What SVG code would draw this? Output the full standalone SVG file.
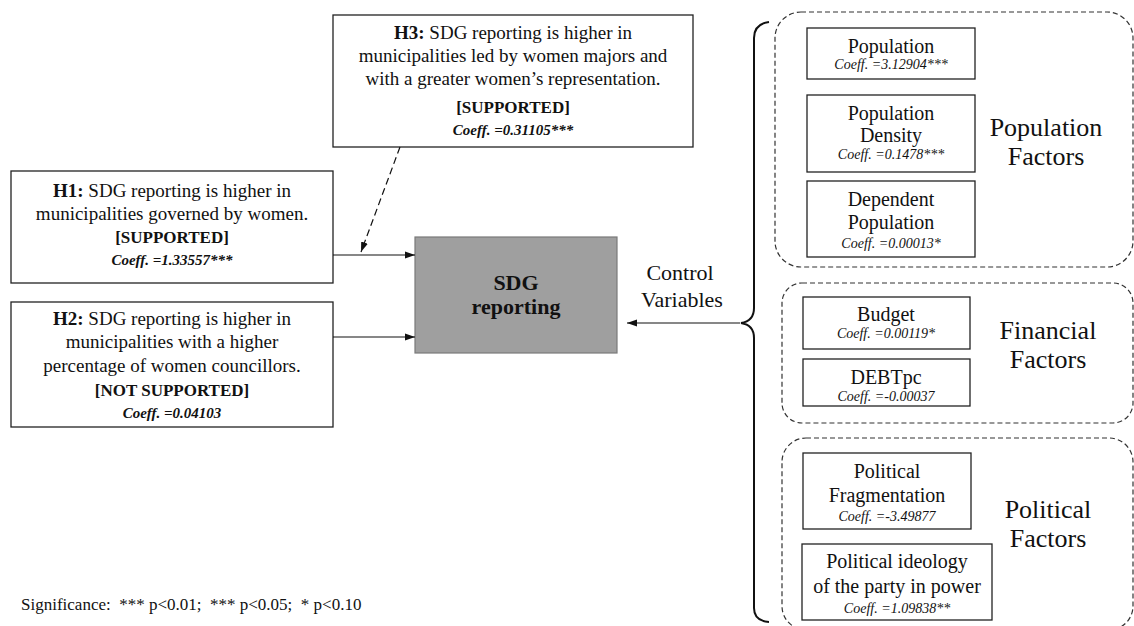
<svg xmlns="http://www.w3.org/2000/svg" width="1134" height="626" viewBox="0 0 1134 626">
<style>
text{font-family:"Liberation Serif","Times New Roman",serif;fill:#111;text-anchor:middle}
.box{fill:#fff;stroke:#222;stroke-width:1.3}
.grp{fill:none;stroke:#333;stroke-width:1.2;stroke-dasharray:5 3}
.h{font-size:19px}
.b{font-weight:bold}
.br{font-size:17px;font-weight:bold}
.hc{font-size:15px;font-weight:bold;font-style:italic}
.n{font-size:20px}
.c{font-size:14px;font-style:italic}
.g{font-size:26px}
.ln{fill:none;stroke:#111;stroke-width:1.2}
</style>
<defs>
<marker id="ah" viewBox="0 0 10 10" refX="10" refY="5" markerWidth="10" markerHeight="10" markerUnits="userSpaceOnUse" orient="auto">
<path d="M0,1.5 L10,5 L0,8.5 z" fill="#111"/>
</marker>
</defs>
<rect width="1134" height="626" fill="#fff"/>

<g id="groups">
<rect class="grp" x="775" y="12" width="358" height="255" rx="26"/>
<rect class="grp" x="782" y="283" width="351" height="140" rx="20"/>
<rect class="grp" x="782" y="438" width="351" height="192" rx="24"/>
</g>

<g id="h3">
<rect class="box" x="333" y="15" width="360" height="132"/>
<text class="h" x="513" y="39"><tspan class="b">H3:</tspan> SDG reporting is higher in</text>
<text class="h" x="513" y="62">municipalities led by women majors and</text>
<text class="h" x="513" y="85">with a greater women’s representation.</text>
<text class="br" x="513" y="113">[SUPPORTED]</text>
<text class="hc" x="513" y="135">Coeff. =0.31105***</text>
</g>

<g id="h1">
<rect class="box" x="11" y="171" width="322" height="112"/>
<text class="h" x="172" y="197"><tspan class="b">H1:</tspan> SDG reporting is higher in</text>
<text class="h" x="172" y="220">municipalities governed by women.</text>
<text class="br" x="172" y="243">[SUPPORTED]</text>
<text class="hc" x="172" y="265">Coeff. =1.33557***</text>
</g>

<g id="h2">
<rect class="box" x="11" y="302" width="322" height="125"/>
<text class="h" x="172" y="325"><tspan class="b">H2:</tspan> SDG reporting is higher in</text>
<text class="h" x="172" y="348">municipalities with a higher</text>
<text class="h" x="172" y="372">percentage of women councillors.</text>
<text class="br" x="172" y="396">[NOT SUPPORTED]</text>
<text class="hc" x="172" y="418">Coeff. =0.04103</text>
</g>

<g id="sdg">
<rect x="415" y="237" width="202" height="116" fill="#9f9f9f" stroke="#7a7a7a" stroke-width="1.2"/>
<text x="516" y="290" font-size="22" font-weight="bold">SDG</text>
<text x="516" y="314" font-size="22" font-weight="bold">reporting</text>
</g>

<g id="control">
<text x="680" y="280" font-size="22">Control</text>
<text x="682" y="307" font-size="22">Variables</text>
</g>

<g id="population">
<rect class="box" x="807" y="28" width="168" height="51"/>
<text class="n" x="891" y="53">Population</text>
<text class="c" x="891" y="69">Coeff. =3.12904***</text>
</g>
<g id="popdensity">
<rect class="box" x="807" y="95" width="168" height="77"/>
<text class="n" x="891" y="120">Population</text>
<text class="n" x="891" y="142">Density</text>
<text class="c" x="891" y="159">Coeff. =0.1478***</text>
</g>
<g id="dependent">
<rect class="box" x="807" y="181" width="168" height="76"/>
<text class="n" x="891" y="206">Dependent</text>
<text class="n" x="891" y="229">Population</text>
<text class="c" x="891" y="248">Coeff. =0.00013*</text>
</g>
<g id="popfactors">
<text class="g" x="1046" y="136">Population</text>
<text class="g" x="1046" y="165">Factors</text>
</g>

<g id="budget">
<rect class="box" x="803" y="297" width="167" height="52"/>
<text class="n" x="886" y="321">Budget</text>
<text class="c" x="886" y="338">Coeff. =0.00119*</text>
</g>
<g id="debt">
<rect class="box" x="803" y="359" width="167" height="47"/>
<text class="n" x="886" y="384">DEBTpc</text>
<text class="c" x="886" y="401">Coeff. =-0.00037</text>
</g>
<g id="finfactors">
<text class="g" x="1048" y="339">Financial</text>
<text class="g" x="1048" y="368">Factors</text>
</g>

<g id="polfrag">
<rect class="box" x="803" y="453" width="168" height="76"/>
<text class="n" x="887" y="478">Political</text>
<text class="n" x="887" y="502">Fragmentation</text>
<text class="c" x="887" y="521">Coeff. =-3.49877</text>
</g>
<g id="polideo">
<rect class="box" x="802" y="544" width="190" height="76"/>
<text class="n" x="897" y="568">Political ideology</text>
<text class="n" x="897" y="593">of the party in power</text>
<text class="c" x="897" y="613">Coeff. =1.09838**</text>
</g>
<g id="polfactors">
<text class="g" x="1048" y="518">Political</text>
<text class="g" x="1048" y="547">Factors</text>
</g>

<g id="significance">
<text x="21" y="610" font-size="17" style="text-anchor:start;white-space:pre">Significance:  *** p&lt;0.01;  *** p&lt;0.05;  * p&lt;0.10</text>
</g>

<g id="connectors">
<path class="ln" d="M333,255 H415" marker-end="url(#ah)"/>
<path class="ln" d="M333,337 H415" marker-end="url(#ah)"/>
<path class="ln" d="M400,147 L361,252" stroke-dasharray="7 4" marker-end="url(#ah)"/>
<path class="ln" d="M740,323 H627" marker-end="url(#ah)"/>
<path d="M769,22 Q754,24 754,38 V308 Q754,321 741,323 Q754,325 754,338 V608 Q754,621 769,622" fill="none" stroke="#111" stroke-width="2"/>
</g>
</svg>
